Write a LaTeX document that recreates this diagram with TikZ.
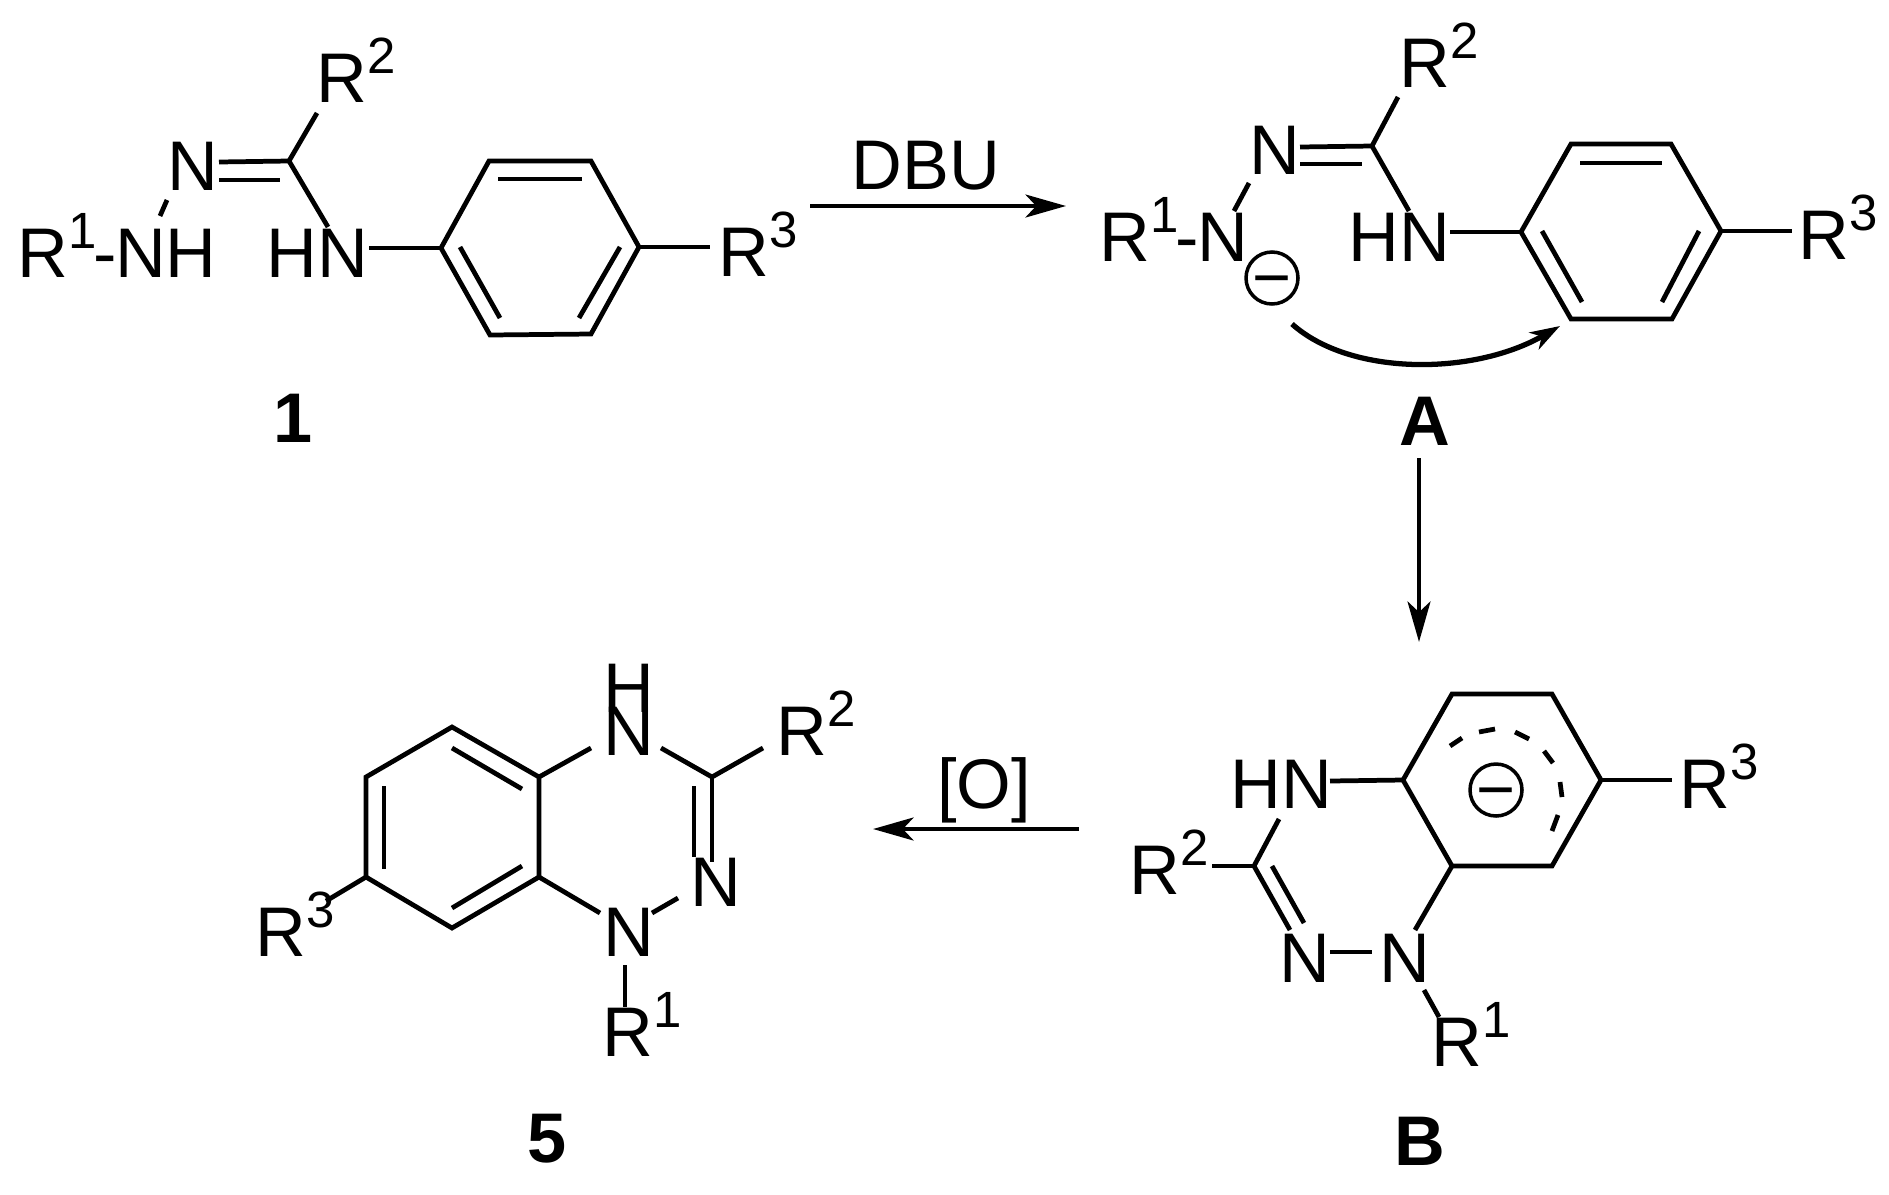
\documentclass[tikz,border=0pt]{standalone}
\usepackage{fontspec}
\setmainfont{Liberation Sans}
\usetikzlibrary{arrows.meta}
\newcommand{\supnum}[1]{\raisebox{0.41em}{\fontsize{29}{29}\selectfont #1}}
\newcommand{\negsign}{\smash{\raisebox{-0.34em}{−}}}
\newcommand{\tightdash}{\kern-2pt-\kern-1pt}
\tikzset{
    atom/.style={anchor=base west, inner sep=0pt, font=\fontsize{40}{40}\selectfont},
    cmpd/.style={atom, font=\fontsize{40}{40}\selectfont\bfseries},
    charge/.style={circle, draw, line width=2pt, minimum size=1.04cm, inner sep=0pt, font=\fontsize{38}{38}\selectfont},
    bigarrow/.style={->, >={Stealth[length=23pt, width=13pt, inset=6pt]}},
    curvearrow/.style={line width=3pt, -{Stealth[length=17pt, width=11pt, inset=5pt]}}
}

\begin{document}
\begin{tikzpicture}[x=0.02cm, y=-0.02cm, line width=2.7pt]
    \useasboundingbox (0,0) rectangle (1889,1194);

    % compound 1
    \node (ar2) [atom] at (314.5,102) {R\supnum{2}};
    \node (an) [atom] at (165.5,190) {N};
    \node (anh) [atom] at (15.5,277) {R\supnum{1}\tightdash NH};
    \node (ahn) [atom] at (264.5,277) {HN};
    \node (ar3) [atom] at (716.5,276) {R\supnum{3}};
    \node (alabel) [cmpd] at (271.5,442) {1};

    \coordinate (ac) at (289,161);
    \coordinate (ac2) at (317,113);
    \coordinate (ad1) at (219,162);
    \coordinate (ad2) at (219,180);
    \coordinate (ad3) at (280,180);
    \coordinate (ac3) at (328,227);
    \coordinate (an1) at (167,200);
    \coordinate (an2) at (160,216);
    \coordinate (ah) at (369,248);
    \coordinate (a1) at (441,248);
    \coordinate (a2) at (489,161);
    \coordinate (a3) at (591,161);
    \coordinate (a4) at (639,247);
    \coordinate (a5) at (591,334);
    \coordinate (a6) at (490,335);
    \coordinate (ai1) at (498,179);
    \coordinate (ai2) at (582,179);
    \coordinate (ai3) at (460,247);
    \coordinate (ai4) at (500,318);
    \coordinate (ai5) at (620,247);
    \coordinate (ai6) at (579,318);
    \coordinate (ae) at (710,247);

    \draw (a1) -- (a2) -- (a3) -- (a4) -- (a5) -- (a6) -- cycle;
    \draw (ac) edge (ac2);
    \draw (ac) edge (ad1);
    \draw (ad2) edge (ad3);
    \draw (ac) edge (ac3);
    \draw (an1) edge (an2);
    \draw (ah) edge (a1);
    \draw (a4) edge (ae);
    \draw (ai1) edge (ai2);
    \draw (ai3) edge (ai4);
    \draw (ai5) edge (ai6);

    % first step
    \node (dbu) [atom] at (849.5,189) {DBU};
    \coordinate (ds) at (810,206);
    \coordinate (de) at (1066,206);
    \draw (ds) edge[bigarrow] (de);

    % intermediate A
    \node (br2) [atom] at (1397,87) {R\supnum{2}};
    \node (bn) [atom] at (1247.5,174) {N};
    \node (bnr) [atom] at (1097.5,261) {R\supnum{1}\tightdash N};
    \node (bhn) [atom] at (1346.5,261) {HN};
    \node (br3) [atom] at (1796.5,259) {R\supnum{3}};
    \node (bneg) [charge] at (1272,278) {\negsign};
    \node (blabel) [cmpd] at (1397,445) {A};

    \coordinate (bc) at (1372,146);
    \coordinate (bc2) at (1398,97);
    \coordinate (bd1) at (1300,147);
    \coordinate (bd2) at (1300,164);
    \coordinate (bd3) at (1362,164);
    \coordinate (bc3) at (1409,211);
    \coordinate (bn1) at (1249,183);
    \coordinate (bn2) at (1234,211);
    \coordinate (bh) at (1450,232);
    \coordinate (b1) at (1521,232);
    \coordinate (b2) at (1571,144);
    \coordinate (b3) at (1671,144);
    \coordinate (b4) at (1721,231);
    \coordinate (b5) at (1672,319);
    \coordinate (b6) at (1571,319);
    \coordinate (bi1) at (1580,163);
    \coordinate (bi2) at (1662,163);
    \coordinate (bi3) at (1542,231);
    \coordinate (bi4) at (1582,302);
    \coordinate (bi5) at (1699,231);
    \coordinate (bi6) at (1662,302);
    \coordinate (be) at (1792,231);
    \coordinate (bs) at (1292,324);
    \coordinate (bt) at (1560,326);

    \draw (b1) -- (b2) -- (b3) -- (b4) -- (b5) -- (b6) -- cycle;
    \draw (bc) edge (bc2);
    \draw (bc) edge (bd1);
    \draw (bd2) edge (bd3);
    \draw (bc) edge (bc3);
    \draw (bn1) edge (bn2);
    \draw (bh) edge (b1);
    \draw (b4) edge (be);
    \draw (bi1) edge (bi2);
    \draw (bi3) edge (bi4);
    \draw (bi5) edge (bi6);
    \draw[curvearrow] (bs) .. controls (1350,376) and (1473,376) .. (bt);

    % second step
    \coordinate (vs) at (1419,458);
    \coordinate (ve) at (1419,642);
    \draw (vs) edge[bigarrow] (ve);

    % intermediate B
    \node (cr3) [atom] at (1677.5,808) {R\supnum{3}};
    \node (chn) [atom] at (1228.5,808) {HN};
    \node (cr2) [atom] at (1127.5,894) {R\supnum{2}};
    \node (cn1) [atom] at (1277.5,982) {N};
    \node (cn2) [atom] at (1377.5,982) {N};
    \node (cr1) [atom] at (1429.5,1066) {R\supnum{1}};
    \node (cneg) [charge] at (1496,790) {\negsign};
    \node (clabel) [cmpd] at (1392,1165) {B};

    \coordinate (c1) at (1403,780);
    \coordinate (c2) at (1452,694);
    \coordinate (c3) at (1552,694);
    \coordinate (c4) at (1601,780);
    \coordinate (c5) at (1552,866);
    \coordinate (c6) at (1452,866);
    \coordinate (ce) at (1672,780);
    \coordinate (ch) at (1330,781);
    \coordinate (cc) at (1254,866);
    \coordinate (cc1) at (1279,819);
    \coordinate (cc2) at (1212,866);
    \coordinate (cd1) at (1290,930);
    \coordinate (cd2) at (1272,866);
    \coordinate (cd3) at (1304,923);
    \coordinate (cb1) at (1330,952);
    \coordinate (cb2) at (1372,952);
    \coordinate (cb3) at (1415,930);
    \coordinate (cb4) at (1424,990);
    \coordinate (cb5) at (1439,1017);

    \draw (c1) -- (c2) -- (c3) -- (c4) -- (c5) -- (c6) -- cycle;
    \draw (c4) edge (ce);
    \draw (ch) edge (c1);
    \draw (cc) edge (cc1);
    \draw (cc2) edge (cc);
    \draw (cc) edge (cd1);
    \draw (cd2) edge (cd3);
    \draw (cb1) edge (cb2);
    \draw (cb3) edge (c6);
    \draw (cb4) edge (cb5);
    \foreach \xa/\ya/\xb/\yb in {1450/746/1462/738, 1479/732/1495/729, 1515/732/1529/739,
                                 1544/751/1553/763, 1560/782/1562/797, 1558/815/1552/831}
        \draw (\xa,\ya) -- (\xb,\yb);

    % third step
    \node (ox) [atom] at (935,808) {[O]};
    \coordinate (os) at (1079,829);
    \coordinate (oe) at (873,829);
    \draw (os) edge[bigarrow] (oe);

    % product 5
    \node (dh) [atom] at (601.5,712) {H};
    \node (dn1) [atom] at (601.5,755) {N};
    \node (dr2) [atom] at (774.5,755) {R\supnum{2}};
    \node (dn2) [atom] at (688.5,906) {N};
    \node (dn3) [atom] at (601.5,956) {N};
    \node (dr1) [atom] at (600.5,1056) {R\supnum{1}};
    \node (dr3) [atom] at (253.5,956) {R\supnum{3}};
    \node (dlabel) [cmpd] at (525,1162) {5};

    \coordinate (d1) at (452,727);
    \coordinate (d2) at (539,777);
    \coordinate (d3) at (539,877);
    \coordinate (d4) at (452,928);
    \coordinate (d5) at (366,877);
    \coordinate (d6) at (366,777);
    \coordinate (di1) at (452,748);
    \coordinate (di2) at (522,789);
    \coordinate (di3) at (384,786);
    \coordinate (di4) at (384,869);
    \coordinate (di5) at (452,908);
    \coordinate (di6) at (522,866);
    \coordinate (db1) at (591,748);
    \coordinate (db2) at (661,748);
    \coordinate (dc) at (712,777);
    \coordinate (db3) at (763,748);
    \coordinate (db4) at (712,862);
    \coordinate (db5) at (694,786);
    \coordinate (db6) at (694,857);
    \coordinate (db7) at (678,898);
    \coordinate (db8) at (652,913);
    \coordinate (db9) at (600,913);
    \coordinate (db10) at (625,965);
    \coordinate (db11) at (625,1007);
    \coordinate (db12) at (326,901);

    \draw (d1) -- (d2) -- (d3) -- (d4) -- (d5) -- (d6) -- cycle;
    \draw (di1) edge (di2);
    \draw (di3) edge (di4);
    \draw (di5) edge (di6);
    \draw (d2) edge (db1);
    \draw (db2) edge (dc);
    \draw (dc) edge (db3);
    \draw (dc) edge (db4);
    \draw (db5) edge (db6);
    \draw (db7) edge (db8);
    \draw (d3) edge (db9);
    \draw (db10) edge (db11);
    \draw (d5) edge (db12);
\end{tikzpicture}
\end{document}
